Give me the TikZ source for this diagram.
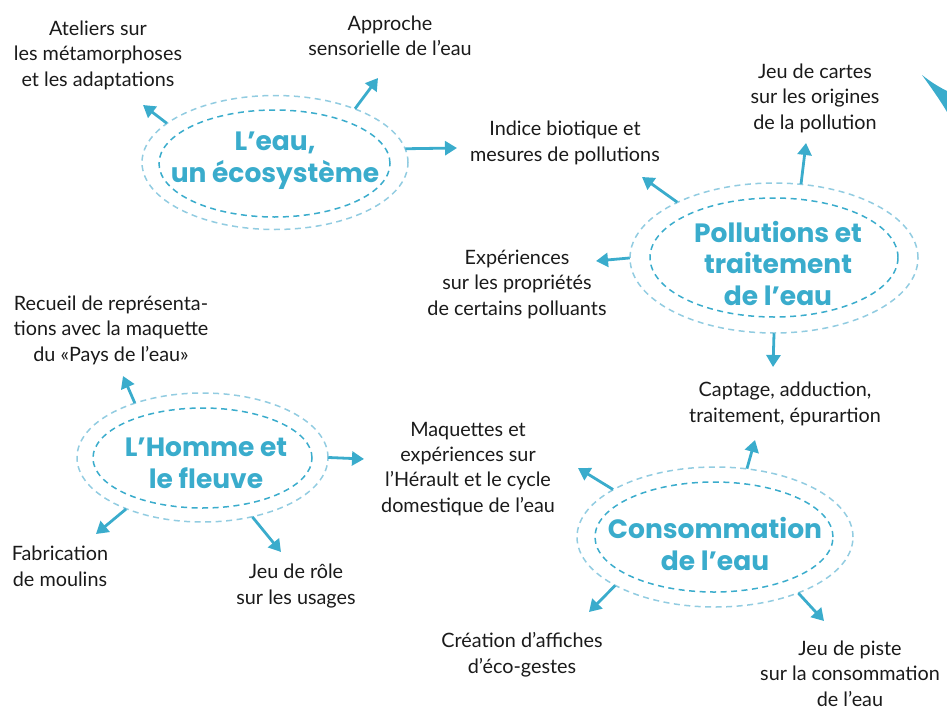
\documentclass[tikz,border=0pt]{standalone}
\usepackage{fontspec}
\setmainfont{Lato}
\newfontfamily\headfont{Poppins}
\usetikzlibrary{shapes.geometric,arrows.meta}
\definecolor{cblue}{HTML}{3AACCC}
\definecolor{lblue}{HTML}{92CCE1}
\definecolor{txt}{HTML}{1A1A1A}
\tikzset{
  outerell/.style={ellipse, draw=lblue, line width=1.5pt, dash pattern=on 6pt off 4.5pt, inner sep=0pt},
  innerell/.style={ellipse, draw=cblue, line width=1.5pt, dash pattern=on 6pt off 4.5pt, inner sep=0pt},
  headtxt/.style={anchor=base, align=center, inner sep=0pt, text=cblue, font=\headfont\bfseries\fontsize{26.5}{31.5}\selectfont},
  bodytxt/.style={anchor=base, align=center, inner sep=0pt, text=txt, font=\fontsize{19.8}{25.3}\selectfont},
  arr/.style={draw=cblue, line width=2.8pt, -{Triangle[length=12pt,width=14pt]}, shorten <=-0.5pt},
}
\begin{document}
\begin{tikzpicture}[x=1pt,y=-1pt]
\useasboundingbox (0,0) rectangle (947,709);

% ---------- ellipses ----------
\node[outerell, minimum width=266pt, minimum height=134pt] (e1o) at (275,162.5) {};
\node[innerell, minimum width=231pt, minimum height=107pt] (e1i) at (274.5,163.5) {};
\node[outerell, minimum width=288pt, minimum height=150pt] (e2o) at (774,258) {};
\node[innerell, minimum width=248pt, minimum height=119pt] (e2i) at (774,257.5) {};
\node[outerell, minimum width=251pt, minimum height=129pt] (e3o) at (202.5,457.5) {};
\node[innerell, minimum width=219pt, minimum height=100pt] (e3i) at (202.5,458) {};
\node[outerell, minimum width=276pt, minimum height=140pt] (e4o) at (715,537) {};
\node[innerell, minimum width=238pt, minimum height=110pt] (e4i) at (714,537) {};

% ---------- headings (anchor = baseline of last line) ----------
\node[headtxt] (h1) at (275,182) {L’eau,\\un écosystème};
\node[headtxt] (h2) at (778,305) {Pollutions et\\traitement\\de l’eau};
\node[headtxt] (h3) at (206,488) {L’Homme et\\le fleuve};
\node[headtxt] (h4) at (715,570) {Consommation\\de l’eau};

% ---------- labels (anchor = baseline of last line) ----------
\node[bodytxt] (t1) at (98,86) {Ateliers sur\\les métamorphoses\\et les adaptations};
\node[bodytxt] (t2) at (390,56) {Approche\\sensorielle de l’eau};
\node[bodytxt] (t3) at (565,161) {Indice biotique et\\mesures de pollutions};
\node[bodytxt] (t4) at (815,129) {Jeu de cartes\\sur les origines\\de la pollution};
\node[bodytxt] (t5) at (517,315) {Expériences\\sur les propriétés\\de certains polluants};
\node[bodytxt] (t6) at (111,361) {Recueil de représenta-\\tions avec la maquette\\du «Pays de l’eau»};
\node[bodytxt] (t7) at (785,422) {Captage, adduction,\\traitement, épurartion};
\node[bodytxt] (t8) at (468,512) {Maquettes et\\expériences sur\\l’Hérault et le cycle\\domestique de l’eau};
\node[bodytxt] (t9) at (60,586) {Fabrication\\de moulins};
\node[bodytxt] (t10) at (296,604) {Jeu de rôle\\sur les usages};
\node[bodytxt] (t11) at (522,673) {Création d’affiches\\d’éco-gestes};
\node[bodytxt] (t12) at (850,706) {Jeu de piste\\sur la consommation\\de l’eau};

% ---------- arrow tips ----------
\coordinate (a1) at (143,105);
\coordinate (a2) at (378,78);
\coordinate (a3) at (457,148);
\coordinate (b1) at (806,143);
\coordinate (b2) at (642,177);
\coordinate (b3) at (596,261);
\coordinate (b4) at (773,367);
\coordinate (c1) at (123,376);
\coordinate (c2) at (364,459);
\coordinate (c3) at (96,534);
\coordinate (c4) at (281,552);
\coordinate (d1) at (755,440);
\coordinate (d2) at (578,468);
\coordinate (d3) at (589,612);
\coordinate (d4) at (824,621);

% ---------- arrows ----------
\draw[arr] (e1o.160) -- (a1);
\draw[arr] (e1o.34) -- (a2);
\draw[arr] (e1o.6) -- (a3);
\draw[arr] (e2o.70) -- (b1);
\draw[arr] (e2o.150) -- (b2);
\draw[arr] (e2o.180) -- (b3);
\draw[arr] (e2o.270) -- (b4);
\draw[arr] (e3o.141) -- (c1);
\draw[arr] (e3o.0) -- (c2);
\draw[arr] (e3o.214) -- (c3);
\draw[arr] (e3o.310) -- (c4);
\draw[arr] (e4o.65) -- (d1);
\draw[arr] (e4o.155) -- (d2);
\draw[arr] (e4o.206) -- (d3);
\draw[arr] (e4o.326) -- (d4);

% ---------- corner swoosh ----------
\fill[cblue] (922,75) .. controls (932,83) and (941,88) .. (947,91) -- (947,112) .. controls (940,100) and (930,86) .. cycle;
\end{tikzpicture}
\end{document}
